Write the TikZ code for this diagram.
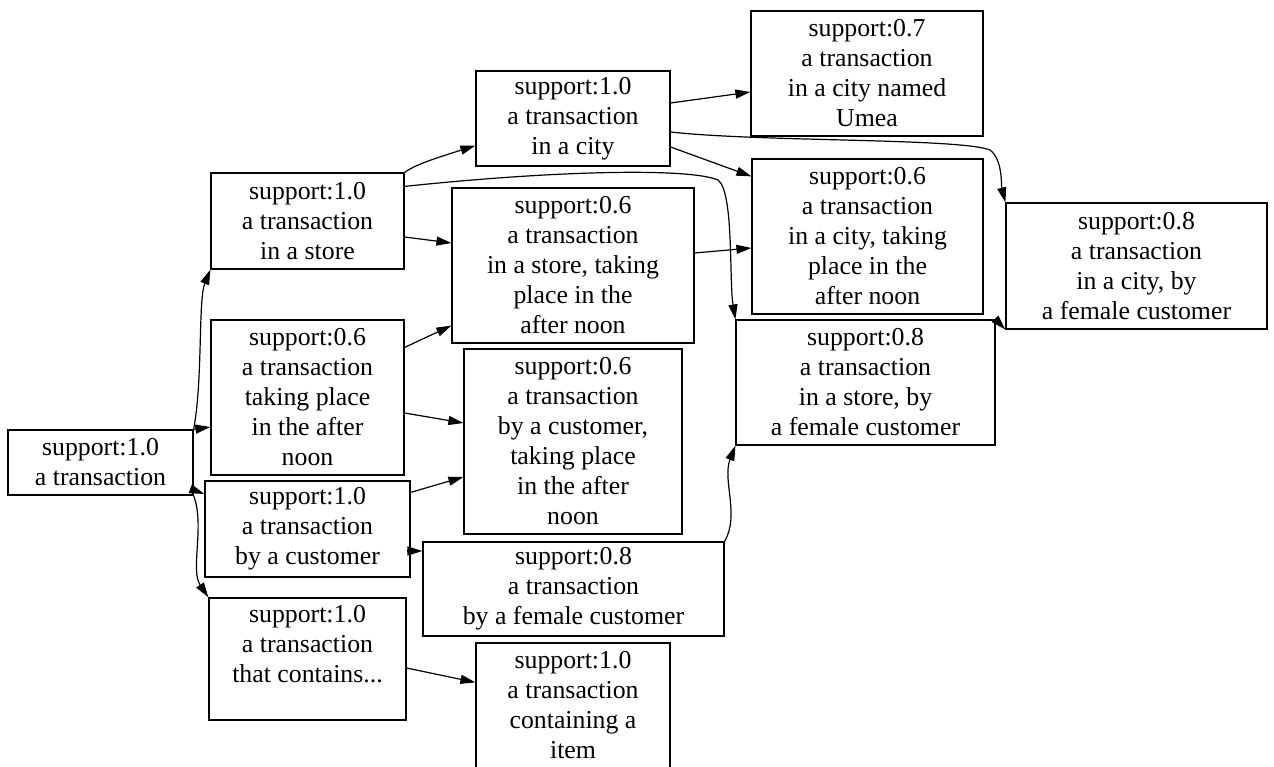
\documentclass[tikz,border=0pt]{standalone}
\usepackage{fontspec}
\setmainfont{Liberation Serif}
\usetikzlibrary{arrows.meta}
\begin{document}
\begin{tikzpicture}[x=1pt,y=-1pt,
  box/.style={draw, line width=1.2pt, inner sep=0pt, align=center, font=\fontsize{25.8}{30}\selectfont},
  conn/.style={line width=1.2pt, -{Triangle[length=15pt,width=9pt]}}]
\useasboundingbox (0,0) rectangle (1274,767);
% nodes
\node[box, minimum width=185pt, minimum height=65pt] (root) at (100.5,462.5) {support:1.0\\a transaction};
\node[box, minimum width=193pt, minimum height=96pt] (store) at (307.5,221) {support:1.0\\a transaction\\in a store};
\node[box, minimum width=193pt, minimum height=155pt] (aft) at (307.5,397.5) {support:0.6\\a transaction\\taking place\\in the after\\noon};
\node[box, minimum width=205pt, minimum height=96pt] (cust) at (307.5,529) {support:1.0\\a transaction\\by a customer};
\node[box, minimum width=197pt, minimum height=122pt] (cont) at (307.5,659) {support:1.0\\a transaction\\that contains...\\\mbox{}};
\node[box, minimum width=194pt, minimum height=95pt] (city) at (573,118.5) {support:1.0\\a transaction\\in a city};
\node[box, minimum width=242pt, minimum height=155pt] (sa) at (573,265.5) {support:0.6\\a transaction\\in a store, taking\\place in the\\after noon};
\node[box, minimum width=218pt, minimum height=185pt] (ca) at (573,441.5) {support:0.6\\a transaction\\by a customer,\\taking place\\in the after\\noon};
\node[box, minimum width=301pt, minimum height=94pt] (fc) at (573.5,589) {support:0.8\\a transaction\\by a female customer};
\node[box, minimum width=194pt, minimum height=125pt] (item) at (573,705.5) {support:1.0\\a transaction\\containing a\\item};
\node[box, minimum width=232pt, minimum height=125pt] (umea) at (867,73.5) {support:0.7\\a transaction\\in a city named\\Umea};
\node[box, minimum width=231pt, minimum height=155pt] (cta) at (867.5,236.5) {support:0.6\\a transaction\\in a city, taking\\place in the\\after noon};
\node[box, minimum width=259pt, minimum height=125pt] (sf) at (865.5,382.5) {support:0.8\\a transaction\\in a store, by\\a female customer};
\node[box, minimum width=261pt, minimum height=126pt] (cf) at (1136.5,266) {support:0.8\\a transaction\\in a city, by\\a female customer};
% connectors
\draw[conn] (root.north east) .. controls (203,380) and (198,300) .. (store.south west);
\draw[conn] (root.north east) -- ([yshift=-29.5pt]aft.west);
\draw[conn] ([yshift=-27.5pt]root.east) -- ([yshift=35pt]cust.west);
\draw[conn] (root.south east) .. controls (205,525) and (190,570) .. (cont.north west);
\draw[conn] (store.north east) .. controls (415,165) and (430,160) .. ([yshift=21pt]city.south west);
\draw[conn] ([yshift=-14pt]store.north east) .. controls (560,170) and (690,168) .. (718,180) .. controls (734,192) and (729,280) .. (sf.north west);
\draw[conn] ([yshift=-16pt]store.east) -- ([yshift=22.5pt]sa.west);
\draw[conn] ([yshift=-28pt]aft.north east) -- ([yshift=18pt]sa.south west);
\draw[conn] ([yshift=-15.5pt]aft.east) -- ([yshift=18.5pt]ca.west);
\draw[conn] ([yshift=-12pt]cust.north east) -- ([yshift=-35.5pt]ca.west);
\draw[conn] ([xshift=-4pt,yshift=-22pt]cust.east) -- ([yshift=38pt]fc.west);
\draw[conn] (fc.north east) .. controls (740,515) and (722,480) .. (sf.south west);
\draw[conn] ([yshift=15.5pt]city.east) -- ([yshift=-18.5pt]umea.west);
\draw[conn] ([yshift=-28.5pt]city.east) -- ([yshift=-18pt]cta.north west);
\draw[conn] ([yshift=-13.5pt]city.east) .. controls (760,142) and (960,138) .. (990,150) .. controls (1003,160) and (1001,185) .. (cf.north west);
\draw[conn] ([yshift=12.5pt]sa.east) -- ([yshift=-11.5pt]cta.west);
\draw[conn] (sf.north east) -- (cf.south west);
\draw[conn] ([yshift=-9pt]cont.east) -- ([yshift=-40pt]item.north west);
\end{tikzpicture}
\end{document}
